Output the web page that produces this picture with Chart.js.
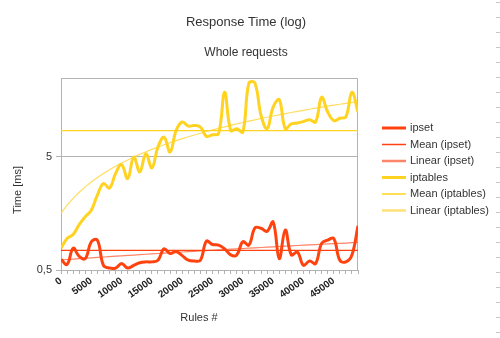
<!DOCTYPE html>
<html><head><meta charset="utf-8">
<script src="https://cdn.jsdelivr.net/npm/chart.js@4"></script>
<style>html,body{margin:0;padding:0;background:#fff}#wrap{width:500px;height:338px;position:relative}</style>
</head><body><div id="wrap"><canvas id="c" width="500" height="338"></canvas></div>
<script>
// ---- data ----
const rules = [0,1000,2000,3000,4000,5000,6000,7000,8000,9000,10000,11000,12000,13000,14000,15000,16000,17000,18000,19000,20000,21000,22000,23000,24000,25000,26000,27000,28000,29000,30000,31000,32000,33000,34000,35000,36000,37000,38000,39000,40000,41000,42000,43000,44000,45000,46000,47000,48000,49000];
const ipset = [0.62,0.56,0.78,0.66,0.63,0.89,0.92,0.55,0.52,0.52,0.57,0.52,0.55,0.58,0.59,0.59,0.61,0.77,0.70,0.73,0.67,0.61,0.60,0.61,0.90,0.84,0.83,0.77,0.68,0.68,0.89,0.83,1.18,1.17,1.10,1.33,0.63,1.13,0.68,0.72,0.55,0.60,0.57,0.86,0.92,0.95,0.61,0.59,0.68,1.23];
const iptables = [0.78,0.95,1.03,1.26,1.48,1.69,2.30,2.91,2.66,3.56,4.28,3.22,5.0,3.69,5.35,4.0,6.13,7.5,5.53,8.59,10.2,9.38,9.5,9.2,7.61,7.87,8.04,18.7,8.59,8.89,8.32,22.5,22.5,11.7,8.89,13.8,16.1,8.89,9.84,10.0,10.3,10.7,10.2,16.9,12.5,10.5,11.0,11.3,18.7,12.5];
const yTickValues = [0.5, 5];
const xLabelEvery = 5000;
const titleText = 'Response Time (log)';
const subtitleText = 'Whole requests';
const xTitle = 'Rules #';
const yTitle = 'Time [ms]';

// ---- derived series (mean and least-squares linear trend) ----
function mean(a){return a.reduce((s,v)=>s+v,0)/a.length;}
function linFit(xs, ys){
  const mx = mean(xs), my = mean(ys);
  let sxy=0, sxx=0;
  for(let i=0;i<xs.length;i++){sxy+=(xs[i]-mx)*(ys[i]-my);sxx+=(xs[i]-mx)*(xs[i]-mx);}
  const b = sxy/sxx, a = my - b*mx;
  return xs.map(x=>({x, y:a+b*x}));
}
const pts = ys => rules.map((x,i)=>({x, y:ys[i]}));
const meanPts = ys => { const m = mean(ys); return [{x:rules[0],y:m},{x:rules[rules.length-1],y:m}]; };

const RED = '#ff420e', YEL = '#ffd320';
const FONT = "'Liberation Sans', Arial, sans-serif";

const datasets = [
  {label:'ipset', data:pts(ipset), borderColor:RED, borderWidth:3, tension:0.4},
  {label:'Mean (ipset)', data:meanPts(ipset), borderColor:RED, borderWidth:1.3, tension:0},
  {label:'Linear (ipset)', data:linFit(rules, ipset), borderColor:'rgba(255,90,50,0.75)', borderWidth:1.2, tension:0},
  {label:'iptables', data:pts(iptables), borderColor:YEL, borderWidth:3, tension:0.4},
  {label:'Mean (iptables)', data:meanPts(iptables), borderColor:YEL, borderWidth:1.3, tension:0},
  {label:'Linear (iptables)', data:linFit(rules, iptables), borderColor:'rgba(255,214,70,0.85)', borderWidth:1.2, tension:0},
].map(d=>Object.assign({pointRadius:0, fill:false}, d));
const legendWidths = [3,1.5,2.5,3,1.5,2.5];
const legendColors = [RED, RED, 'rgba(255,120,90,0.9)', YEL, YEL, 'rgba(255,225,120,1)'];

const deco = {
  id:'deco',
  beforeDatasetsDraw(chart){
    const {ctx, chartArea:a} = chart;
    ctx.save();
    ctx.strokeStyle = '#b3b3b3'; ctx.lineWidth = 1;
    ctx.beginPath();
    const t = Math.round(a.top)+0.5, r = Math.round(a.right)-0.5;
    ctx.moveTo(Math.round(a.left), t); ctx.lineTo(r, t); ctx.lineTo(r, Math.round(a.bottom));
    ctx.stroke();
    ctx.restore();
  },
  afterDraw(chart){
    const {ctx, chartArea:a} = chart;
    ctx.save();
    ctx.fillStyle = '#333';
    ctx.textAlign = 'center'; ctx.textBaseline = 'middle';
    ctx.font = '13px ' + FONT;
    ctx.fillText(titleText, 246, 22);
    ctx.font = '12px ' + FONT;
    ctx.fillText(subtitleText, 246, 53);
    ctx.font = '11px ' + FONT;
    ctx.fillText(xTitle, 199, 318);
    ctx.save(); ctx.translate(18, 190); ctx.rotate(-Math.PI/2); ctx.fillText(yTitle, 0, 0); ctx.restore();
    // legend
    ctx.textAlign = 'left';
    chart.data.datasets.forEach((d,i)=>{
      const y = 128 + i*16.5;
      ctx.strokeStyle = legendColors[i]; ctx.lineWidth = legendWidths[i];
      ctx.beginPath(); ctx.moveTo(382, y); ctx.lineTo(406, y); ctx.stroke();
      ctx.fillStyle = '#333';
      ctx.font = '11px ' + FONT;
      ctx.fillText(d.label, 410, y);
    });
    // page edge marks
    ctx.strokeStyle = '#c8c8c8'; ctx.lineWidth = 1;
    for(let y=2; y<338; y+=15){ ctx.beginPath(); ctx.moveTo(496, y+0.5); ctx.lineTo(500, y+0.5); ctx.stroke(); }
    ctx.restore();
  }
};

new Chart(document.getElementById('c'), {
  type:'line',
  data:{datasets},
  options:{
    responsive:false, animation:false, events:[],
    layout:{padding:{left:0, top:78, right:142, bottom:0}},
    plugins:{legend:{display:false}, title:{display:false}, tooltip:{enabled:false}},
    scales:{
      x:{
        type:'linear', min:rules[0], max:rules[rules.length-1],
        afterBuildTicks:s=>{s.ticks = rules.map(v=>({value:v}));},
        afterFit:s=>{s.height = 68;},
        grid:{drawOnChartArea:false, drawTicks:true, tickLength:4, color:'#b3b3b3'},
        border:{display:true, color:'#b3b3b3'},
        ticks:{autoSkip:false, minRotation:35, maxRotation:35, padding:1, color:'#222',
          font:{family:FONT, size:10, weight:'bold'},
          callback:v=> v % xLabelEvery === 0 ? String(v) : ''}
      },
      y:{
        type:'logarithmic', min:0.5, max:25,
        afterBuildTicks:s=>{s.ticks = yTickValues.map(v=>({value:v}));},
        afterFit:s=>{s.width = 61;},
        grid:{color:'#b3b3b3', tickLength:5},
        border:{display:true, color:'#b3b3b3'},
        ticks:{padding:4, color:'#333', font:{family:FONT, size:11},
          callback:v=> String(v).replace('.', ',')}
      }
    }
  },
  plugins:[deco]
});
</script></body></html>
